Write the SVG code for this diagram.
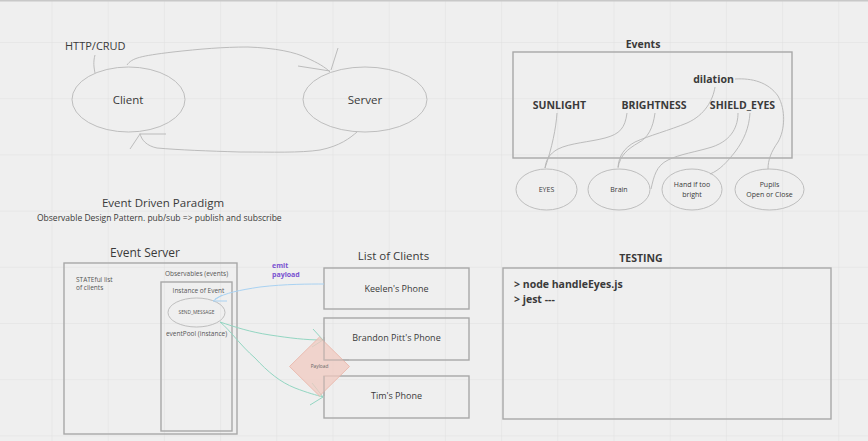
<svg xmlns="http://www.w3.org/2000/svg" width="868" height="441" viewBox="0 0 868 441">
<defs>
<pattern id="grid" x="51.5" y="42" width="56.2" height="56.2" patternUnits="userSpaceOnUse">
<path d="M0,0 H56.2 M0,0 V56.2" fill="none" stroke="#e0e0e0" stroke-width="1"/>
</pattern>
<style>
text{font-family:"Open Sans","Noto Sans","Liberation Sans",sans-serif;fill:#3a3a3a}
.b{font-weight:bold}
.m{text-anchor:middle}
.sm{font-size:6.5px;fill:#555}
.xs{font-size:4.8px;fill:#555}
.ell{fill:none;stroke:#b8b8b8;stroke-width:0.9}
.box{fill:none;stroke:#a8a8a8;stroke-width:1.4}
.ln{fill:none;stroke:#b5b5b5;stroke-width:0.9}
.blue{fill:none;stroke:#a9d2f2;stroke-width:1}
.green{fill:none;stroke:#93d6c2;stroke-width:1}
</style>
</defs>
<rect width="868" height="441" fill="#efefef"/>
<rect width="868" height="441" fill="url(#grid)"/>
<line x1="0" y1="0.7" x2="868" y2="0.7" stroke="#c8c8c8" stroke-width="1.4"/>

<g id="http-label"><text x="65" y="50" font-size="11">HTTP/CRUD</text></g>
<g id="client"><ellipse class="ell" cx="128.5" cy="99.5" rx="56.5" ry="32.5"/><text class="m" x="128" y="103.5" font-size="11.5">Client</text></g>
<g id="server"><ellipse class="ell" cx="365" cy="99.5" rx="62" ry="32.5"/><text class="m" x="365" y="104" font-size="11.5">Server</text></g>

<g id="events">
<text class="m b" x="643" y="48" font-size="10.5">Events</text>
<rect class="box" x="513" y="52" width="279" height="106"/>
<text class="m b" x="713.5" y="83" font-size="10.5">dilation</text>
<text class="m b" x="559.5" y="109" font-size="10.5">SUNLIGHT</text>
<text class="m b" x="654" y="109" font-size="10.5">BRIGHTNESS</text>
<text class="m b" x="742.5" y="109" font-size="10.5">SHIELD_EYES</text>
</g>
<g id="eyes"><ellipse class="ell" cx="546.5" cy="189.5" rx="30.5" ry="20.5"/><text class="m" x="546.5" y="192" font-size="7">EYES</text></g>
<g id="brain"><ellipse class="ell" cx="619" cy="189.5" rx="31" ry="20.5"/><text class="m" x="619" y="192" font-size="7">Brain</text></g>
<g id="hand"><ellipse class="ell" cx="692" cy="189.5" rx="30" ry="20.5"/><text class="m" x="692" y="187" font-size="7">Hand if too</text><text class="m" x="692" y="197" font-size="7">bright</text></g>
<g id="pupils"><ellipse class="ell" cx="769.5" cy="189.5" rx="34.5" ry="20.5"/><text class="m" x="769.5" y="187" font-size="7">Pupils</text><text class="m" x="769.5" y="197" font-size="7">Open or Close</text></g>

<g id="paradigm">
<text class="m" x="163" y="207" font-size="11.5">Event Driven Paradigm</text>
<text x="37" y="221" font-size="8.5">Observable Design Pattern. pub/sub =&gt; publish and subscribe</text>
</g>

<g id="event-server">
<text class="m" x="145" y="257" font-size="12">Event Server</text>
<rect class="box" x="64" y="263" width="173" height="171" stroke-width="1.1"/>
<text class="sm" x="76" y="282">STATEful list</text>
<text class="sm" x="76" y="289.5">of clients</text>
<text class="sm m" x="196.5" y="276">Observables (events)</text>
<rect class="box" x="161" y="282" width="71" height="149" stroke-width="1.1"/>
<text class="sm m" x="198.5" y="293">Instance of Event</text>
<text class="sm m" x="196.5" y="336">eventPool (instance)</text>
</g>
<g id="send-message"><ellipse class="ell" cx="196.5" cy="312.5" rx="28.5" ry="14.5"/><text class="xs m" x="196.5" y="314">SEND_MESSAGE</text></g>

<g id="list-of-clients"><text class="m" x="393.5" y="260" font-size="11.5">List of Clients</text></g>
<g id="keelen"><rect class="box" x="324" y="268" width="145" height="41" stroke-width="1.1"/><text class="m" x="396.5" y="291.5" font-size="9">Keelen's Phone</text></g>
<g id="brandon"><rect class="box" x="324" y="318" width="145" height="42" stroke-width="1.1"/><text class="m" x="396.5" y="340.5" font-size="9">Brandon Pitt's Phone</text></g>
<g id="tim"><rect class="box" x="324" y="376" width="145" height="42" stroke-width="1.1"/><text class="m" x="396.5" y="398.5" font-size="9">Tim's Phone</text></g>

<g id="emit-label"><text class="b" x="272" y="268" font-size="7" style="fill:#7a52d1">emit</text><text class="b" x="272" y="277" font-size="7" style="fill:#7a52d1">payload</text></g>

<g id="connectors">
<path class="ln" d="M95,55 C93,62 94,68 95,73"/>
<path class="ln" d="M127,65 C132,58 140,56 173,52 C200,49 223,47 248,47 C275,48 295,52 307,58 C318,63 325,67 330,72"/>
<path class="ln" d="M338,48 L331,70 M298,66 L330,71"/>
<path class="ln" d="M357,132 C350,138 340,146 320,150 C300,153 273,152 240,152 C207,151 180,150 157,148 C147,146 141,140 140,133"/>
<path class="ln" d="M166,134 L141,134 M130,149 L140,134"/>

<path class="ln" d="M557,113 C556,128 552,148 545,168"/>
<path class="ln" d="M627,113 C625,128 620,134 605,138 C590,142 570,143 558,149 C549,154 546,160 545,168"/>
<path class="ln" d="M655,113 C653,128 648,138 638,143 C628,149 620,155 618,168"/>
<path class="ln" d="M715,87 C713,100 705,115 687,123 C670,130 648,136 635,142 C624,148 619,156 618,167"/>
<path class="ln" d="M738,113 C738,125 733,140 712,147 C696,152 680,154 668,160 C656,166 654,176 651,189"/>
<path class="ln" d="M750,113 C749,128 744,140 735,152 C727,162 720,170 710,174"/>
<path class="ln" d="M735,79 C752,78 768,82 778,96 C786,110 785,130 778,142 C771,152 768,160 768,169"/>

<path class="blue" d="M324,284 C310,284 285,284 260,287 C240,290 225,293 215,299"/>
<path class="blue" d="M227,301 L213,301 M222,295 L213,301"/>

<path class="green" d="M220,322 C235,327 250,332 270,335 C290,338 305,340 323,340"/>
<path class="green" d="M313,329 L323,340 M312,347 L323,340"/>
<path class="green" d="M220,322 C230,330 240,345 255,358 C268,372 280,382 295,388 C308,393 316,395 323,397"/>
<path class="green" d="M312,383 L323,397 M310,405 L323,397"/>
</g>

<g id="payload">
<polygon points="319.5,337 349.5,366.5 319.5,396 289.5,366.5" fill="#f0c9c0" fill-opacity="0.75" stroke="#e8b2a6" stroke-width="0.8"/>
<text class="xs m" x="319.5" y="368" style="fill:#666">Payload</text>
</g>
<g id="client-edges-overlay">
<path d="M324,337 V360 H349 M324,376 V396" fill="none" stroke="#a8a8a8" stroke-width="1.1" opacity="0.6"/>
</g>

<g id="testing">
<text class="m b" x="641" y="262" font-size="10.5">TESTING</text>
<rect class="box" x="503" y="268" width="328" height="151" stroke-width="1.1"/>
<text class="b" x="514" y="288" font-size="10.5">&gt; node handleEyes.js</text>
<text class="b" x="514" y="303" font-size="10.5">&gt; jest ---</text>
</g>
</svg>
